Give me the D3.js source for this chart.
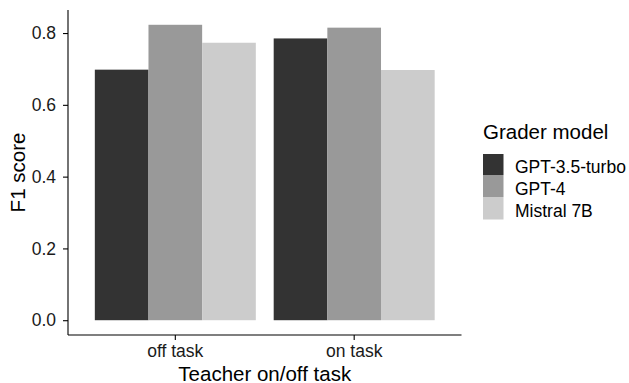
<!DOCTYPE html>
<html><head><meta charset="utf-8">
<script src="https://cdn.jsdelivr.net/npm/d3@7"></script>
<style>body{margin:0;background:#fff}text{font-family:"Liberation Sans",Arial,sans-serif}</style>
</head><body><svg id="c" width="629" height="383"></svg>
<script>
const categories = ["off task", "on task"];
const models = ["GPT-3.5-turbo", "GPT-4", "Mistral 7B"];
const gpt35 = [0.698, 0.785];
const gpt4 = [0.823, 0.815];
const mistral = [0.773, 0.697];
const colors = ["#333333", "#999999", "#cccccc"];
const yTicks = [0, 0.2, 0.4, 0.6, 0.8];

(function () {
const series = [gpt35, gpt4, mistral];
const svg = d3.select("#c");
const pL = 68, pR = 461.5, pT = 10, pB = 335;
const tickFs = 17.5, titleFs = 20.5;

// ggplot discrete: centers separated by 1 unit, expand 0.6
const unit = (pR - pL) / (categories.length - 1 + 1.2);
const xc = c => pL + (0.6 + categories.indexOf(c)) * unit;
const groupW = 0.9 * unit;
const xi = d3.scaleBand().domain(models).range([0, groupW]);

const y = d3.scaleLinear().domain([-0.0412, 0.8642]).range([pB, pT]);

const g = svg.append("g");
categories.forEach((c, ci) => {
  models.forEach((m, mi) => {
    const v = series[mi][ci];
    g.append("rect")
      .attr("x", xc(c) - groupW / 2 + xi(m))
      .attr("width", xi.bandwidth())
      .attr("y", y(v))
      .attr("height", y(0) - y(v))
      .attr("fill", colors[mi]);
  });
});

// y axis
const ya = svg.append("g").attr("transform", `translate(${pL},0)`)
  .call(d3.axisLeft(y).tickValues(yTicks).tickFormat(d3.format(".1f")).tickSize(5).tickPadding(7));
ya.select(".domain").remove();
ya.selectAll("line").attr("stroke", "#000").attr("stroke-width", 1.1);
ya.selectAll("text").attr("font-size", tickFs).attr("fill", "#1a1a1a").attr("font-family", "Liberation Sans, Arial, sans-serif");
svg.append("line").attr("x1", pL).attr("x2", pL).attr("y1", pT).attr("y2", pB).attr("stroke", "#000").attr("stroke-width", 1.1);

// x axis
const xa = svg.append("g").attr("transform", `translate(0,${pB})`);
categories.forEach(c => {
  xa.append("line").attr("x1", xc(c)).attr("x2", xc(c)).attr("y1", 0).attr("y2", 5).attr("stroke", "#000").attr("stroke-width", 1.1);
  xa.append("text").attr("x", xc(c)).attr("y", 21.7).attr("text-anchor", "middle").attr("font-size", tickFs).attr("fill", "#1a1a1a").text(c);
});
svg.append("line").attr("x1", pL).attr("x2", pR).attr("y1", pB).attr("y2", pB).attr("stroke", "#000").attr("stroke-width", 1.1);

// titles
svg.append("text").attr("x", (pL + pR) / 2).attr("y", 380.5).attr("text-anchor", "middle").attr("font-size", titleFs).text("Teacher on/off task");
svg.append("text").attr("transform", `translate(25,${(pT + pB) / 2}) rotate(-90)`).attr("text-anchor", "middle").attr("font-size", titleFs).text("F1 score");

// legend
const lg = svg.append("g");
lg.append("text").attr("x", 483).attr("y", 139).attr("font-size", titleFs).text("Grader model");
models.forEach((m, i) => {
  const yy = 154 + i * 22;
  lg.append("rect").attr("x", 483).attr("y", yy).attr("width", 20.5).attr("height", 21.5).attr("fill", colors[i]);
  lg.append("text").attr("x", 515).attr("y", yy + 18.5).attr("font-size", tickFs).text(m);
});
})();
</script></body></html>
